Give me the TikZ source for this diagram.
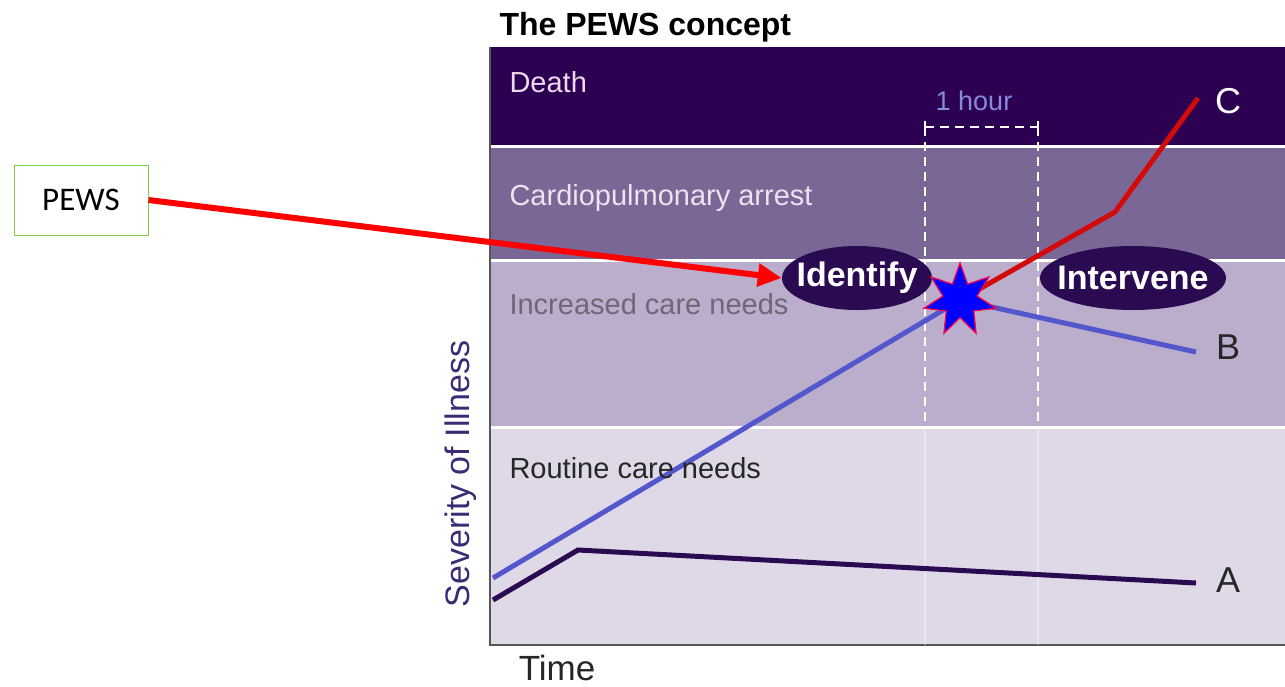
\documentclass[tikz,border=0pt]{standalone}
\usepackage{fontspec}
\setmainfont{Liberation Sans}
\newfontfamily\calibri{Carlito}
\usepackage{xcolor}
\usepackage{tikz}
\usetikzlibrary{shapes, arrows, positioning, calc, arrows.meta}

\definecolor{deathband}{HTML}{2D0152}
\definecolor{arrestband}{HTML}{7B6795}
\definecolor{increasedband}{HTML}{BBAECC}
\definecolor{routineband}{HTML}{DFD9E7}
\definecolor{increasedtext}{HTML}{6E6679}
\definecolor{axistext}{HTML}{3A2B74}
\definecolor{darkline}{HTML}{2A0B52}
\definecolor{blueline}{HTML}{5457CC}
\definecolor{redline}{HTML}{D30A0A}
\definecolor{axisgray}{HTML}{555555}

\begin{document}
\begin{tikzpicture}[x=1pt, y=-1pt,
    bandlabel/.style={anchor=west, font=\fontsize{29}{32}\selectfont},
    oval/.style={ellipse, fill=darkline, text=white, inner xsep=-12pt, inner ysep=-6pt,
                 font=\bfseries\fontsize{34}{36}\selectfont},
    curve/.style={line width=5pt},
    tag/.style={anchor=center, font=\fontsize{36}{38}\selectfont},
    hourline/.style={white, line width=1.5pt, dash pattern=on 9pt off 6pt}]
    \useasboundingbox (0,0) rectangle (1285,686);

    % Severity bands
    \fill[deathband] (490,47) rectangle (1285,146);
    \fill[arrestband] (490,146) rectangle (1285,260);
    \fill[increasedband] (490,260) rectangle (1285,427);
    \fill[routineband] (490,427) rectangle (1285,645);
    \foreach \y in {146,260,427}
        \draw[white, line width=3pt] (490,\y) -- (1285,\y);
    \draw[axisgray, line width=2pt] (490,47) -- (490,645) -- (1285,645);

    \node[anchor=base west, font=\bfseries\fontsize{32}{34}\selectfont] (title) at (496,35) {The PEWS concept};
    \node[bandlabel, text=white!85!violet] (death) at (506,82) {Death};
    \node[bandlabel, text=white!88!violet] (arrest) at (506,198) {Cardiopulmonary arrest};
    \node[bandlabel, text=increasedtext] (increased) at (506,304) {Increased care needs};

    % The one hour window
    \draw[hourline] (925,127) -- (925,427);
    \draw[hourline] (1038,127) -- (1038,427);
    \draw[white, opacity=0.35, line width=1.5pt] (925,427) -- (925,645) (1038,427) -- (1038,645);
    \draw[hourline] (925,127) -- (1038,127);
    \draw[white, line width=1.5pt] (925,121) -- (925,133) (1038,121) -- (1038,133);
    \node[font=\fontsize{27}{29}\selectfont, text=blueline!70!white] (hour) at (974,101) {1 hour};

    % Axes
    \node[rotate=90, text=axistext, font=\fontsize{34}{36}\selectfont] (severity) at (461,474) {Severity of Illness};
    \node[anchor=base, font=\fontsize{35}{37}\selectfont, text=black!85] (time) at (557,680) {Time};

    % Patient courses
    \coordinate (start) at (960,300);
    \draw[curve, darkline] (493,600) -- (578,550) -- (1196,583);
    \draw[curve, blueline] (493,578) -- (start) -- (1196,352);
    \draw[curve, redline] (start) -- (1115,212) -- (1198,98);
    \node[bandlabel, text=black!85] (routine) at (506,468) {Routine care needs};

    \node[oval, minimum width=150pt, minimum height=64pt] (identify) at (857,278) {Identify};
    \node[oval, minimum width=186pt, minimum height=64pt] (intervene) at (1133,278) {Intervene};
    \node[star, star points=7, star point ratio=2.1, fill=blue, draw=red!70!magenta, line width=1.2pt,
          minimum size=74pt, inner sep=0pt] (alarm) at (start) {};

    \node[tag, text=black!85] (a) at (1228,580) {A};
    \node[tag, text=black!85] (b) at (1228,347) {B};
    \node[tag, text=white] (c) at (1228,101) {C};

    % Score box
    \node[draw=green!45!olive!70, line width=1pt, fill=white, minimum width=134pt, minimum height=70pt,
          font=\calibri\fontsize{33}{36}\selectfont] (pews) at (81,200) {PEWS};
    \draw[red, line width=6pt, -{Triangle[length=24pt, width=22pt]}] (pews.east) -- (identify.west);
\end{tikzpicture}
\end{document}
